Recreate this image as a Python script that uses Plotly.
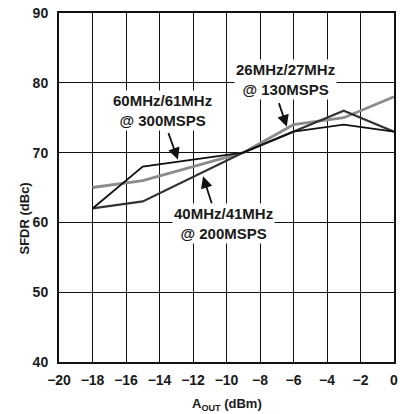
import plotly.graph_objects as go

# Data
x_gray = [-18, -15, -9, -6, -3, 0]
y_26mhz = [65, 66, 70, 74, 75, 78]

x_60 = [-18, -15, -9, -6, -3, 0]
y_60mhz = [62, 68, 70, 73, 74, 73]

x_40 = [-18, -15, -9, -6, -3, 0]
y_40mhz = [62, 63, 70, 73, 76, 73]

x_ticks = [-20, -18, -16, -14, -12, -10, -8, -6, -4, -2, 0]
y_ticks = [40, 50, 60, 70, 80, 90]

labels = ["60MHz/61MHz<br>@ 300MSPS", "26MHz/27MHz<br>@ 130MSPS", "40MHz/41MHz<br>@ 200MSPS"]
label_pos = [(-13.8, 76.0), (-6.5, 80.5), (-10.2, 59.9)]
arrow_tail = [(-13.5, 73.0), (-6.9, 77.3), (-10.85, 62.5)]
arrow_head = [(-12.9, 69.0), (-6.4, 73.7), (-11.4, 66.6)]

FONT = "Liberation Sans, Arial, sans-serif"

fig = go.Figure()
fig.add_trace(go.Scatter(x=x_gray, y=y_26mhz, mode="lines",
                         line=dict(color="#8c8c8c", width=2.8)))
fig.add_trace(go.Scatter(x=x_40, y=y_40mhz, mode="lines",
                         line=dict(color="#333333", width=2.2)))
fig.add_trace(go.Scatter(x=x_60, y=y_60mhz, mode="lines",
                         line=dict(color="#111111", width=1.8)))

anns = []
for (tx, ty), (hx, hy) in zip(arrow_tail, arrow_head):
    anns.append(dict(x=hx, y=hy, ax=tx, ay=ty, xref="x", yref="y",
                     axref="x", ayref="y", text="", showarrow=True,
                     arrowhead=2, arrowsize=1.3, arrowwidth=1.8,
                     arrowcolor="#111111"))
for txt, (lx, ly) in zip(labels, label_pos):
    anns.append(dict(x=lx, y=ly, xref="x", yref="y", text="<b>" + txt + "</b>",
                     showarrow=False, bgcolor="white", borderpad=1,
                     font=dict(family=FONT, size=15, color="#1a1a1a")))
# axis titles
anns.append(dict(x=-0.131, y=0.41, xref="paper", yref="paper",
                 text="<b>SFDR (dBc)</b>", textangle=-90, showarrow=False,
                 font=dict(family=FONT, size=13, color="#1a1a1a")))
anns.append(dict(x=0.5, y=-0.123, xref="paper", yref="paper",
                 text="<b>A<sub>OUT</sub> (dBm)</b>", showarrow=False,
                 yanchor="middle",
                 font=dict(family=FONT, size=13, color="#1a1a1a")))

fig.update_layout(
    width=401, height=414,
    margin=dict(l=59, r=7, t=13, b=52, autoexpand=False),
    paper_bgcolor="white", plot_bgcolor="white",
    showlegend=False,
    annotations=anns,
    font=dict(family=FONT, size=14, color="#1a1a1a"),
)
fig.update_xaxes(range=[-20, 0], tickvals=x_ticks,
                 ticktext=[("<b>%s</b>" % (("\u2212%d" % -v) if v < 0 else str(v))) for v in x_ticks],
                 showgrid=True, gridcolor="#111111", gridwidth=1,
                 showline=True, linecolor="#111111", linewidth=2, mirror=True,
                 ticks="outside", ticklen=4, tickcolor="rgba(0,0,0,0)",
                 zeroline=False, automargin=False, ticklabeloverflow="allow")
fig.update_yaxes(range=[40, 90], tickvals=y_ticks,
                 ticktext=["<b>%d</b>" % v for v in y_ticks],
                 showgrid=True, gridcolor="#111111", gridwidth=1,
                 showline=True, linecolor="#111111", linewidth=2, mirror=True,
                 ticks="outside", ticklen=6, tickcolor="rgba(0,0,0,0)",
                 zeroline=False, automargin=False, ticklabeloverflow="allow")

fig.write_html("out.html", config={"displayModeBar": False, "staticPlot": True},
               post_script="document.body.style.margin='0';document.body.style.padding='0';document.body.style.overflow='hidden';")
